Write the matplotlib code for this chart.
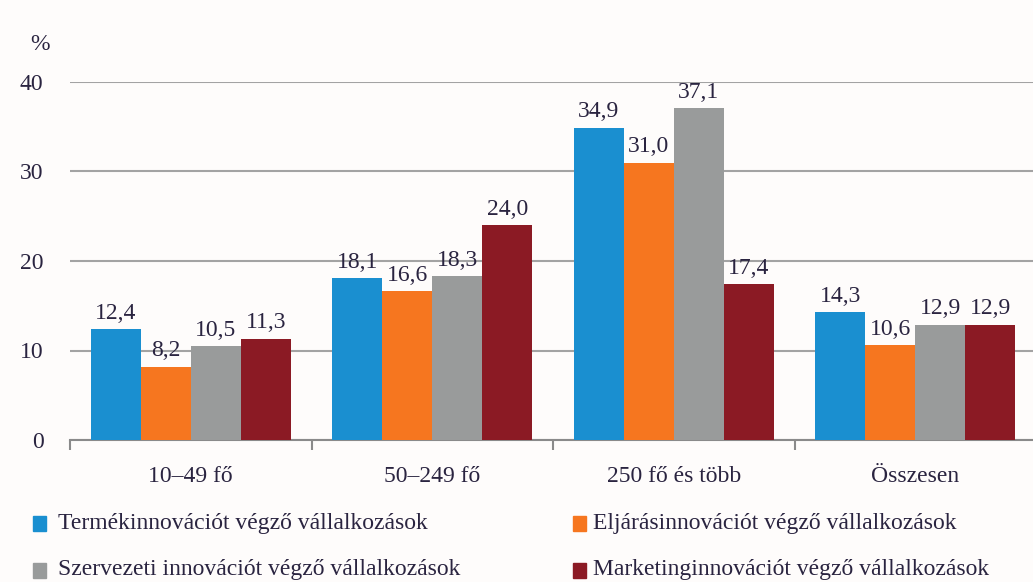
import matplotlib
matplotlib.use("Agg")
import matplotlib.pyplot as plt
import numpy as np
from matplotlib.patches import Rectangle

categories = ["10–49 fő", "50–249 fő", "250 fő és több", "Összesen"]
series_names = ["Termékinnovációt végző vállalkozások",
                "Eljárásinnovációt végző vállalkozások",
                "Szervezeti innovációt végző vállalkozások",
                "Marketinginnovációt végző vállalkozások"]
termek = [12.4, 18.1, 34.9, 14.3]
eljaras = [8.2, 16.6, 31.0, 10.6]
szervezeti = [10.5, 18.3, 37.1, 12.9]
marketing = [11.3, 24.0, 17.4, 12.9]
colors = ["#1a8fd0", "#f6761f", "#999b9b", "#8b1a24"]
yticks = [0, 10, 20, 30, 40]

plt.rcParams['font.family'] = ['Liberation Serif', 'DejaVu Serif']
text_color = "#2a2440"
fs = 17

fig = plt.figure(figsize=(10.33, 5.82), dpi=100)
fig.patch.set_facecolor("#fefcfb")
ax = fig.add_axes([70/1033, 142/582, 966/1033, 358/582])
ax.set_facecolor("#fefcfb")

data = [termek, eljaras, szervezeti, marketing]
x = np.arange(len(categories))
w = 0.207
for i, (vals, col) in enumerate(zip(data, colors)):
    pos = x + (i - 1.5) * w
    ax.bar(pos, vals, width=w, color=col, zorder=3)
    for p, v in zip(pos, vals):
        ax.text(p, v + 0.6, f"{v:.1f}".replace(".", ","), ha="center", va="bottom",
                fontsize=fs, color=text_color, zorder=4)

ax.set_xlim(-0.5, 3.5)
ax.set_ylim(0, 40)
ax.set_yticks(yticks)
ax.set_yticklabels([str(t) for t in yticks], fontsize=fs, color=text_color)
ax.tick_params(axis="y", length=0, pad=19)
ax.yaxis.grid(True, color="#a3a3a3", linewidth=1.5, zorder=0)
ax.set_xticks(x)
ax.set_xticklabels(categories, fontsize=fs, color=text_color)
ax.tick_params(axis="x", which="major", length=0, pad=19)
ax.set_xticks(np.arange(-0.5, 4.0, 1.0), minor=True)
ax.tick_params(axis="x", which="minor", length=7, width=1.5, color="#8a8a8a", direction="out")
for s in ["top", "right", "left"]:
    ax.spines[s].set_visible(False)
ax.spines["bottom"].set_color("#8a8a8a")
ax.spines["bottom"].set_linewidth(1.5)

fig.text(40/1033, 1 - 45/582, "%", fontsize=fs, color=text_color, ha="center", va="center")

# legend
leg_pos = [(33, 58, 523), (573, 593, 523), (33, 58, 570), (573, 593, 570)]
for (sx, tx, ly), name, col in zip(leg_pos, series_names, colors):
    fig.patches.append(Rectangle((sx/1033, 1 - (ly + 8)/582), 13/1033, 15/582,
                                 transform=fig.transFigure, color=col))
    fig.text(tx/1033, 1 - ly/582, name, fontsize=fs, color=text_color,
             ha="left", va="center")

fig.savefig("out.png", dpi=100, facecolor=fig.get_facecolor())
